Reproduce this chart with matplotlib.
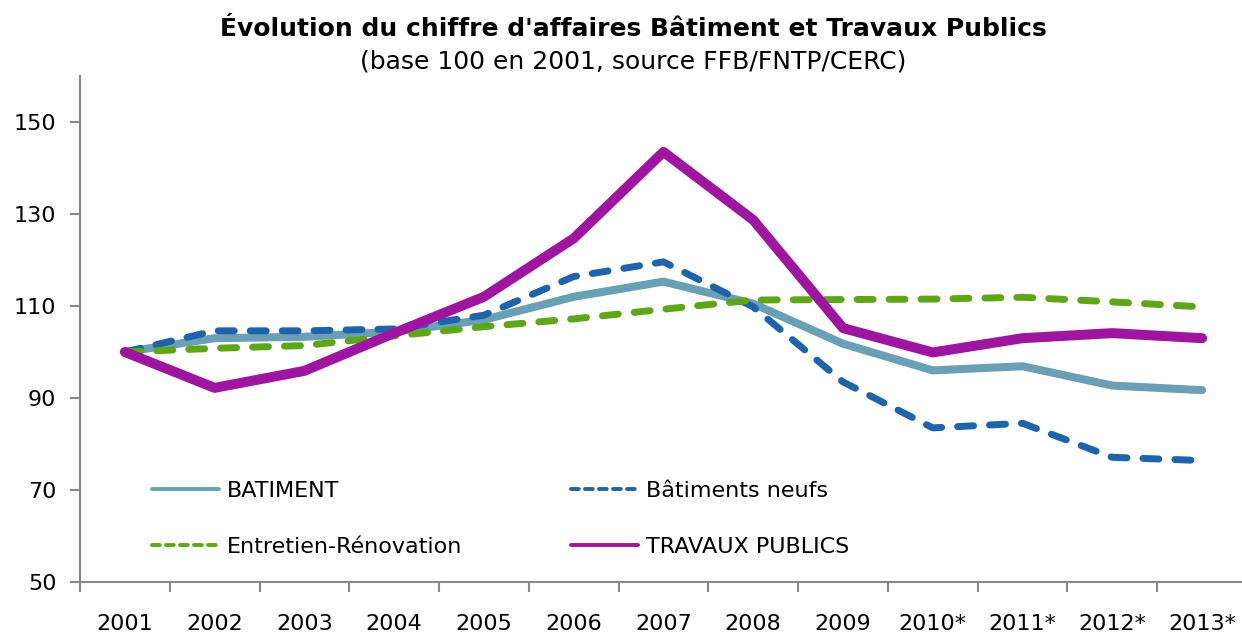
import numpy as np
import matplotlib
matplotlib.use("Agg")
import matplotlib.pyplot as plt
from matplotlib.lines import Line2D

# Data (base 100 in 2001)
years = ["2001", "2002", "2003", "2004", "2005", "2006", "2007",
         "2008", "2009", "2010*", "2011*", "2012*", "2013*"]
batiment = [100, 103.0, 103.3, 104.4, 107.0, 112.0, 115.3, 110.5, 101.8, 96.0, 96.9, 92.7, 91.7]
batiments_neufs = [100, 104.6, 104.6, 105.0, 108.0, 116.4, 119.6, 109.8, 93.5, 83.5, 84.5, 77.1, 76.4]
entretien = [100, 100.8, 101.4, 103.5, 105.5, 107.2, 109.3, 111.3, 111.4, 111.5, 111.9, 110.9, 109.8]
travaux_publics = [100, 92.2, 95.9, 104.1, 112.0, 124.7, 143.5, 128.7, 105.2, 99.9, 103.0, 104.1, 103.0]

c_bat = "#6aa0b5"
c_neufs = "#1f63aa"
c_entr = "#5ea617"
c_tp = "#9e169f"

fig = plt.figure(figsize=(12.42, 6.35), dpi=100)
ax = fig.add_axes([0.0644, 0.0835, 0.9396, 0.7968])

x = np.arange(len(years))
ax.plot(x, batiment, color=c_bat, lw=5.8, solid_capstyle="round",
        solid_joinstyle="round")
ax.plot(x, batiments_neufs, color=c_neufs, lw=5.0, dashes=(2.3, 2.3),
        dash_capstyle="round", dash_joinstyle="round")
ax.plot(x, entretien, color=c_entr, lw=5.0, dashes=(2.3, 2.3),
        dash_capstyle="round", dash_joinstyle="round")
ax.plot(x, travaux_publics, color=c_tp, lw=7.2, solid_capstyle="round",
        solid_joinstyle="round")

ax.set_xlim(-0.5, len(years) - 0.5)
ax.set_ylim(50, 160)
ax.set_yticks([50, 70, 90, 110, 130, 150])

ax.set_xticks(x)
ax.set_xticklabels(years)
ax.set_xticks(np.arange(-0.5, len(years)), minor=True)
ax.tick_params(axis="x", which="major", length=0, pad=23, labelsize=16)
ax.tick_params(axis="x", which="minor", length=7, width=1.5, color="#888888")
ax.tick_params(axis="y", length=7, width=1.5, color="#888888", pad=10, labelsize=16)

for side in ["top", "right"]:
    ax.spines[side].set_visible(False)
for side in ["left", "bottom"]:
    ax.spines[side].set_color("#888888")
    ax.spines[side].set_linewidth(1.5)

# Legend: two columns, no frame, thinner handles than the plotted lines
handles = [
    Line2D([], [], color=c_bat, lw=2.8, solid_capstyle="round"),
    Line2D([], [], color=c_entr, lw=2.8, dashes=(2.0, 1.6), dash_capstyle="round"),
    Line2D([], [], color=c_neufs, lw=2.8, dashes=(2.0, 1.6), dash_capstyle="round"),
    Line2D([], [], color=c_tp, lw=2.8, solid_capstyle="round"),
]
labels = ["BATIMENT", "Entretien-Rénovation", "Bâtiments neufs", "TRAVAUX PUBLICS"]
ax.legend(handles, labels, ncol=2, frameon=False, fontsize=16,
          loc="upper left", bbox_to_anchor=(0.0446, 0.239),
          handlelength=3.0, handletextpad=0.36, labelspacing=1.6,
          columnspacing=4.9)

fig.text(0.51, 0.955, "Évolution du chiffre d'affaires Bâtiment et Travaux Publics",
         ha="center", va="center", fontsize=18, fontweight="bold")
fig.text(0.51, 0.903, "(base 100 en 2001, source FFB/FNTP/CERC)",
         ha="center", va="center", fontsize=18)

fig.savefig("out.png", dpi=100)
